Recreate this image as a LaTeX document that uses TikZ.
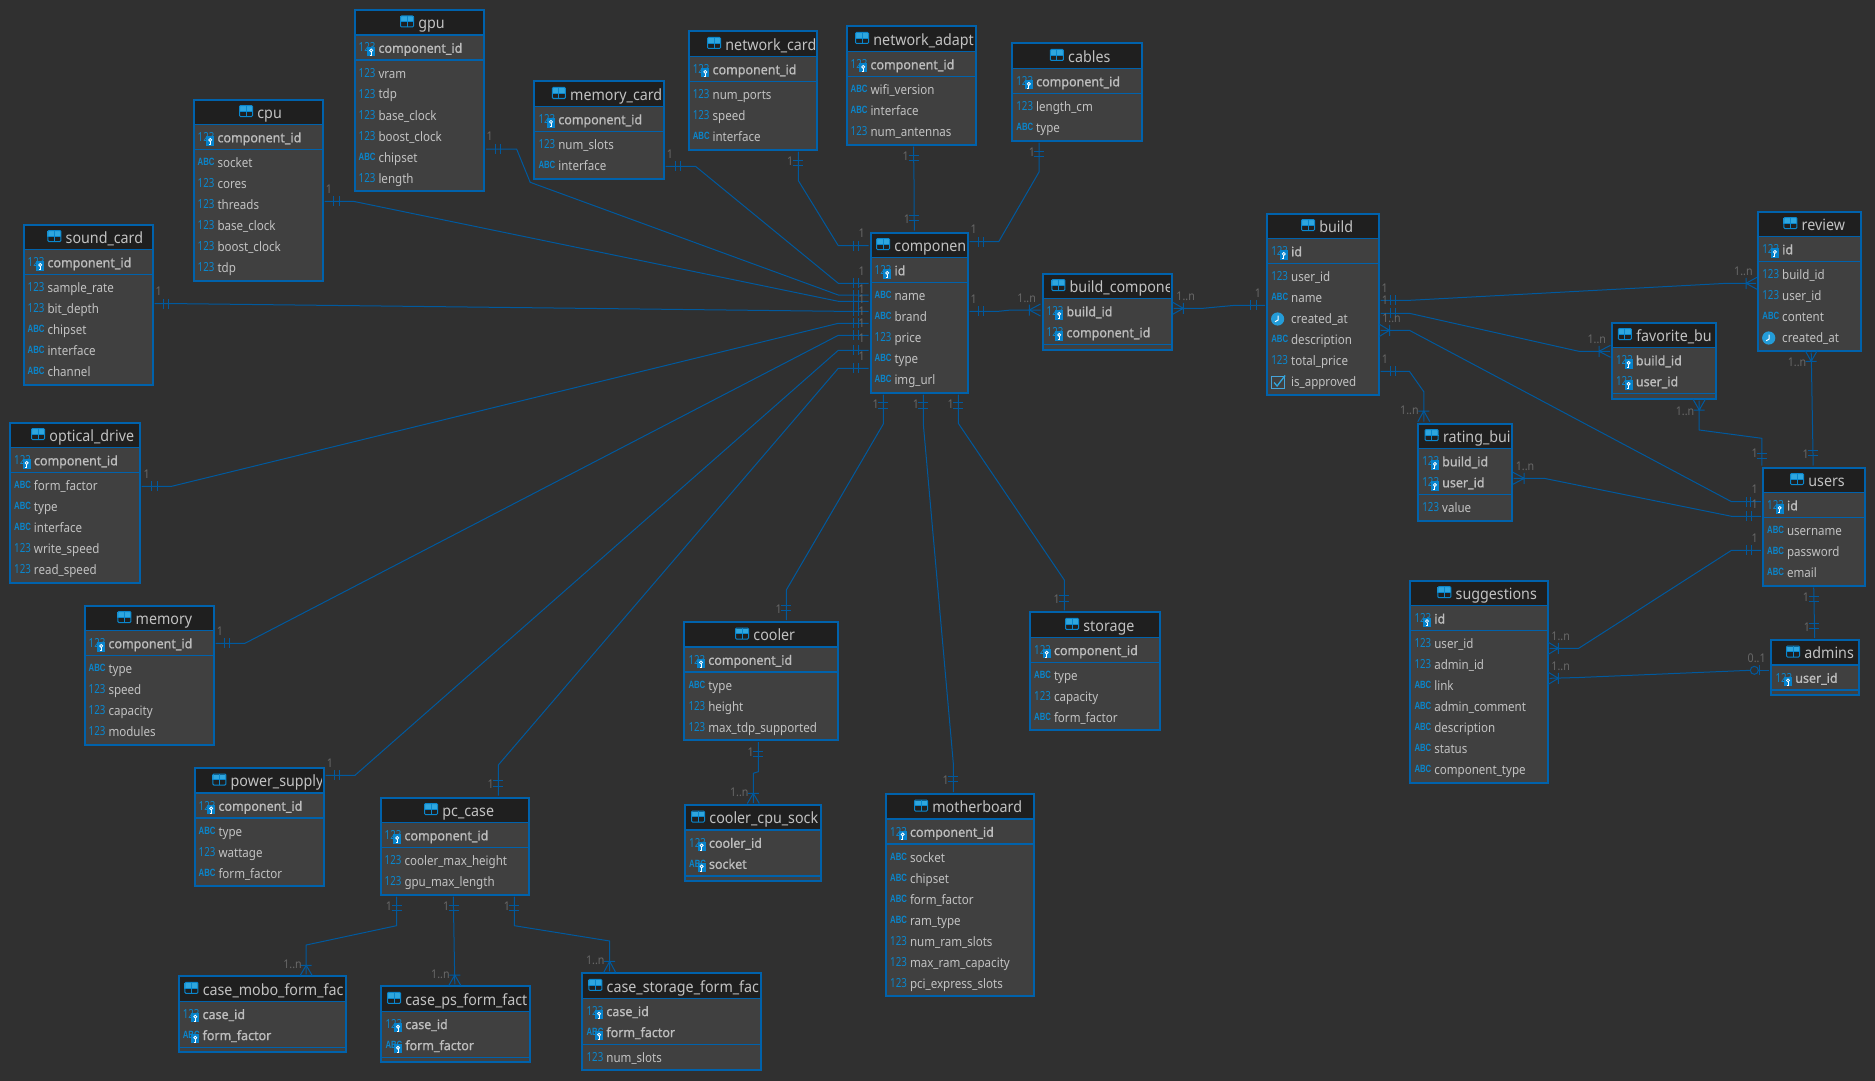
\documentclass[tikz,border=0pt]{standalone}
\usepackage{fontspec}
\setmainfont{Noto Sans}
\newfontfamily\iconf[FakeStretch=0.78]{Noto Sans}
\newfontfamily\iconb[FakeStretch=0.74]{Liberation Sans}
\newfontfamily\colf[FakeStretch=0.89]{Noto Sans}
\newfontfamily\keyf[FakeStretch=0.96,FakeBold=1]{Noto Sans}
\newfontfamily\titf[FakeStretch=0.92]{Noto Sans}
\definecolor{bgc}{HTML}{303030}
\definecolor{tfill}{HTML}{404040}
\definecolor{thead}{HTML}{1F1F1F}
\definecolor{bluec}{HTML}{0062AC}
\definecolor{relc}{HTML}{00599E}
\definecolor{txtc}{HTML}{C2C2C2}
\definecolor{keytxt}{HTML}{BDBDBD}
\definecolor{iconc}{HTML}{0A86CC}
\definecolor{keyc}{HTML}{0683CC}
\definecolor{labc}{HTML}{686868}
\definecolor{lightc}{HTML}{2FA6DE}
\newcount\rowc \newcount\labn \newcount\icn
\tikzset{
 tblbox/.style={draw=bluec,line width=2pt,outer sep=2pt,inner sep=0pt,rectangle},
 seprule/.style={draw=bluec,line width=1.1pt},
 rel/.style={draw=relc,line width=1pt,line join=miter},
 mark1/.style={draw=relc,line width=1pt},
 lbl/.style={text=labc,inner sep=0pt,font=\fontsize{12}{14}\selectfont\colf},
 coltxt/.style={text=txtc,inner sep=0pt,anchor=base west,font=\fontsize{13}{15}\selectfont\colf},
 colkey/.style={text=keytxt,inner sep=0pt,anchor=base west,font=\fontsize{13}{15}\selectfont\keyf},
 titletxt/.style={text=txtc,inner sep=0pt,anchor=base west,font=\fontsize{15.5}{18}\selectfont\titf},
 iconnum/.style={text=iconc,inner sep=0pt,anchor=base west,font=\fontsize{12.5}{14}\selectfont\iconf},
 iconabc/.style={text=iconc,inner sep=0pt,anchor=base west,font=\fontsize{10.5}{12}\selectfont\iconb\bfseries},
}
% type icon: n number, a text, t timestamp, b boolean
\newcommand\ticon[3]{%
 \global\advance\icn by 1
 \if#1n\node[iconnum] (ic\the\icn) at ({#2+4},{#3-0.8}) {123};\fi
 \if#1a\node[iconabc] (ic\the\icn) at ({#2+4},{#3-1.8}) {ABC};\fi
 \if#1t\fill[lightc!70!iconc] ({#2+10.5},{#3-4.5}) circle (6.6);
   \draw[white,line width=1pt] ({#2+11},{#3-8}) -- ({#2+11},{#3-3.5}) -- ({#2+8},{#3-1.8});\fi
 \if#1b\draw[draw=iconc!75!white,line width=1pt] ({#2+4.5},{#3-10.5}) rectangle ({#2+17},{#3+2});
   \draw[lightc,line width=1.3pt] ({#2+7},{#3-4}) -- ({#2+10},{#3-0.5}) -- ({#2+18},{#3-11});\fi
}
\newcommand\keyicon[2]{%
 \fill[keyc] ({#1+12.8},{#2-6}) rectangle ({#1+20.6},{#2+3.2});
 \draw[white,line width=.8pt] ({#1+16.7},{#2-2.4}) circle (1.5);
 \draw[white,line width=.9pt] ({#1+16.7},{#2-.9}) -- ({#1+16.7},{#2+2.2}) -- ({#1+15.2},{#2+2.2});
}
% \etable{name}{x1}{x2}{y0}{iconx}{title}{nkeys}{nattrs}{rows}
\newcommand\etable[9]{%
 \pgfmathsetmacro\tH{34+21*(#7+#8)}
 \pgfmathsetmacro\tSep{#4+25+4+21*#7}
 \gdef\tbn{#1}\gdef\tx{#2}
 \pgfmathsetmacro\ky{#4+25+17.8}\xdef\keyy{\ky}
 \pgfmathsetmacro\ay{\tSep+18}\xdef\attry{\ay}
 \global\rowc=0
 \fill[tfill] (#2,#4) rectangle (#3,{#4+\tH});
 \fill[thead] (#2,#4) rectangle (#3,{#4+25});
 \draw[seprule] (#2,{#4+25}) -- (#3,{#4+25});
 \draw[seprule] (#2,\tSep) -- (#3,\tSep);
 \begin{scope}
  \clip (#2,#4) rectangle ({#3-2},{#4+25});
  \fill[lightc] (#5,{#4+6.5}) rectangle ({#5+13.5},{#4+11.5});
  \draw[iconc,line width=1pt,rounded corners=1pt] ({#5+.5},{#4+6}) rectangle ({#5+13.5},{#4+17});
  \draw[iconc,line width=1pt] (#5,{#4+11.7}) -- ({#5+14},{#4+11.7}) ({#5+7},{#4+6}) -- ({#5+7},{#4+17});
  \node[titletxt] (#1-title) at ({#5+18.2},{#4+18.8}) {#6};
 \end{scope}
 #9
 \node[tblbox,minimum width={(#3-#2)*1pt},minimum height={(\tH)*1pt}] (#1) at ({(#2+#3)/2},{#4+\tH/2}) {};
}
\newcommand\K[2]{%
 \global\advance\rowc by 1
 \ticon{#1}{\tx}{\keyy}
 \keyicon{\tx}{\keyy}
 \node[colkey] (\tbn-r\the\rowc) at ({\tx+23.8},\keyy) {#2};
 \pgfmathsetmacro\ky{\keyy+21}\xdef\keyy{\ky}
}
\newcommand\R[2]{%
 \global\advance\rowc by 1
 \ticon{#1}{\tx}{\attry}
 \node[coltxt] (\tbn-r\the\rowc) at ({\tx+23.8},\attry) {#2};
 \pgfmathsetmacro\ay{\attry+21}\xdef\attry{\ay}
}
\newcommand\lab[3]{\global\advance\labn by 1 \node[lbl] (lab\the\labn) at (#1,#2) {#3};}
\newcommand\hticks[3]{\draw[mark1] (#1,{#3-5}) -- (#1,{#3+5}) (#2,{#3-5}) -- (#2,{#3+5});}
\newcommand\vticks[3]{\draw[mark1] ({#3-5},#1) -- ({#3+5},#1) ({#3-5},#2) -- ({#3+5},#2);}
\newcommand\hcrow[3]{\draw[mark1] (#1,{#3-5.5}) -- (#1,{#3+5.5}) (#2,{#3-6}) -- (#1,#3) -- (#2,{#3+6});}
\newcommand\vcrow[3]{\draw[mark1] ({#1-5.5},#2) -- ({#1+5.5},#2) ({#1-6},#3) -- (#1,#2) -- ({#1+6},#3);}
\begin{document}
\begin{tikzpicture}[x=1pt,y=-1pt]
\fill[bgc] (0,0) rectangle (1875,1081);
\useasboundingbox (0,0) rectangle (1875,1081);
\etable{cpu}{193.5}{322.5}{99.5}{239}{cpu}{1}{6}{\K{n}{component\_id}\R{a}{socket}\R{n}{cores}\R{n}{threads}\R{n}{base\_clock}\R{n}{boost\_clock}\R{n}{tdp}}
\etable{gpu}{354.5}{484}{10}{400}{gpu}{1}{6}{\K{n}{component\_id}\R{n}{vram}\R{n}{tdp}\R{n}{base\_clock}\R{n}{boost\_clock}\R{a}{chipset}\R{n}{length}}
\etable{soundcard}{23.5}{152.5}{224.5}{47.3}{sound\_card}{1}{5}{\K{n}{component\_id}\R{n}{sample\_rate}\R{n}{bit\_depth}\R{a}{chipset}\R{a}{interface}\R{a}{channel}}
\etable{optical}{10}{139.5}{422.5}{31}{optical\_drive}{1}{5}{\K{n}{component\_id}\R{a}{form\_factor}\R{a}{type}\R{a}{interface}\R{n}{write\_speed}\R{n}{read\_speed}}
\etable{memory}{84.5}{213.5}{605.5}{117.3}{memory}{1}{4}{\K{n}{component\_id}\R{a}{type}\R{n}{speed}\R{n}{capacity}\R{n}{modules}}
\etable{power}{194.5}{323.5}{768}{212.3}{power\_supply}{1}{3}{\K{n}{component\_id}\R{a}{type}\R{n}{wattage}\R{a}{form\_factor}}
\etable{pccase}{380.5}{528.5}{797.5}{424}{pc\_case}{1}{2}{\K{n}{component\_id}\R{n}{cooler\_max\_height}\R{n}{gpu\_max\_length}}
\etable{memcard}{534.3}{663.7}{81.5}{551.8}{memory\_card}{1}{2}{\K{n}{component\_id}\R{n}{num\_slots}\R{a}{interface}}
\etable{netcard}{688.6}{817.1}{31.5}{707}{network\_card}{1}{3}{\K{n}{component\_id}\R{n}{num\_ports}\R{n}{speed}\R{a}{interface}}
\etable{netadapt}{846.5}{975.5}{26.5}{855}{network\_adapt}{1}{3}{\K{n}{component\_id}\R{a}{wifi\_version}\R{a}{interface}\R{n}{num\_antennas}}
\etable{cables}{1012.2}{1141.6}{43.5}{1049.8}{cables}{1}{2}{\K{n}{component\_id}\R{n}{length\_cm}\R{a}{type}}
\etable{comp}{870.5}{967.5}{232.5}{876}{componen}{1}{5}{\K{n}{id}\R{a}{name}\R{a}{brand}\R{n}{price}\R{a}{type}\R{a}{img\_url}}
\etable{buildcomp}{1042.5}{1171.5}{273.5}{1051.3}{build\_compone}{2}{0}{\K{n}{build\_id}\K{n}{component\_id}}
\etable{build}{1267.1}{1378.7}{213.5}{1301}{build}{1}{6}{\K{n}{id}\R{n}{user\_id}\R{a}{name}\R{t}{created\_at}\R{a}{description}\R{n}{total\_price}\R{b}{is\_approved}}
\etable{review}{1758.2}{1861.4}{211.5}{1783.3}{review}{1}{4}{\K{n}{id}\R{n}{build\_id}\R{n}{user\_id}\R{a}{content}\R{t}{created\_at}}
\etable{favorite}{1611.9}{1715.5}{322.5}{1617.9}{favorite\_bu}{2}{0}{\K{n}{build\_id}\K{n}{user\_id}}
\etable{rating}{1418.2}{1511.5}{423.5}{1424.6}{rating\_bui}{2}{1}{\K{n}{build\_id}\K{n}{user\_id}\R{n}{value}}
\etable{users}{1763}{1864.6}{467.5}{1790}{users}{1}{3}{\K{n}{id}\R{a}{username}\R{a}{password}\R{a}{email}}
\etable{suggestions}{1410.3}{1547.7}{580.7}{1437.3}{suggestions}{1}{7}{\K{n}{id}\R{n}{user\_id}\R{n}{admin\_id}\R{a}{link}\R{a}{admin\_comment}\R{a}{description}\R{a}{status}\R{a}{component\_type}}
\etable{admins}{1771.3}{1859}{640}{1786}{admins}{1}{0}{\K{n}{user\_id}}
\etable{casemobo}{178.6}{345.5}{976.3}{184.4}{case\_mobo\_form\_fac}{2}{0}{\K{n}{case\_id}\K{a}{form\_factor}}
\etable{caseps}{381.3}{529.5}{986.3}{387}{case\_ps\_form\_fact}{2}{0}{\K{n}{case\_id}\K{a}{form\_factor}}
\etable{casestorage}{582.4}{761}{973.3}{588.3}{case\_storage\_form\_fac}{2}{1}{\K{n}{case\_id}\K{a}{form\_factor}\R{n}{num\_slots}}
\etable{cooler}{684.3}{837.7}{622}{735}{cooler}{1}{3}{\K{n}{component\_id}\R{a}{type}\R{n}{height}\R{n}{max\_tdp\_supported}}
\etable{coolersock}{685}{821}{805}{691}{cooler\_cpu\_sock}{2}{0}{\K{n}{cooler\_id}\K{a}{socket}}
\etable{motherboard}{886}{1034}{794}{914}{motherboard}{1}{7}{\K{n}{component\_id}\R{a}{socket}\R{a}{chipset}\R{a}{form\_factor}\R{a}{ram\_type}\R{n}{num\_ram\_slots}\R{n}{max\_ram\_capacity}\R{n}{pci\_express\_slots}}
\etable{storage}{1030}{1160}{612.3}{1065}{storage}{1}{3}{\K{n}{component\_id}\R{a}{type}\R{n}{capacity}\R{a}{form\_factor}}
% connectors into component, west side
\draw[rel] (netcard.south -| 798.4,0) -- (798.4,180.7) -- (838.3,245.7) -- (comp.west |- 0,245.7);
\draw[rel] (memcard.east |- 0,166.3) -- (695.5,166.3) -- (838.3,283.3) -- (comp.west |- 0,283.3);
\draw[rel] (gpu.east |- 0,149) -- (516.6,149) -- (530.2,182.3) -- (838.3,295) -- (comp.west |- 0,295);
\draw[rel] (cpu.east |- 0,201.3) -- (353.3,201.3) -- (838.3,301.3) -- (comp.west |- 0,301.3);
\draw[rel] (soundcard.east |- 0,303.7) -- (183,303.7) -- (838.3,311.3) -- (comp.west |- 0,311.3);
\draw[rel] (optical.east |- 0,486.3) -- (171.7,486.3) -- (838.3,323.3) -- (comp.west |- 0,323.3);
\draw[rel] (memory.east |- 0,643.3) -- (245,643.3) -- (838.3,335.3) -- (comp.west |- 0,335.3);
\draw[rel] (power.east |- 0,775.3) -- (355,775.3) -- (838.3,350.3) -- (comp.west |- 0,350.3);
\draw[rel] (pccase.north -| 498.3,0) -- (498.3,765) -- (838.3,368.3) -- (comp.west |- 0,368.3);
\hticks{853.3}{858.7}{245.7}\hticks{853.3}{858.7}{283.3}\hticks{853.3}{858.7}{295}\hticks{853.3}{858.7}{301.3}
\hticks{853.3}{858.7}{311.3}\hticks{853.3}{858.7}{323.3}\hticks{853.3}{858.7}{335.3}\hticks{853.3}{858.7}{350.3}\hticks{853.3}{858.7}{368.3}
\vticks{160.5}{165.5}{798.4}
\hticks{675}{680.5}{166.3}
\hticks{495}{500.5}{149}
\hticks{333.3}{339}{201.3}
\hticks{163.3}{168.7}{303.7}
\hticks{151.7}{157}{486.3}
\hticks{224.3}{229.7}{643.3}
\hticks{334.3}{339.7}{775.3}
\vticks{780.7}{786}{498.3}
% others
\draw[rel] (comp.east |- 0,241.7) -- (998.7,241.7) -- (1039.2,171.7) -- (cables.south -| 1039.2,0);
\hticks{978.3}{983.7}{241.7}\vticks{151}{156}{1039.2}
\draw[rel] (netadapt.south -| 913.5,0) -- (914,180) -- (comp.north -| 914.3,0);
\vticks{155.3}{160.7}{913.5}\vticks{215}{220.3}{914.3}
\draw[rel] (comp.east |- 0,311.3) -- (998.7,311.3) -- (1011,310) -- (buildcomp.west |- 0,310);
\hticks{978.3}{983.7}{311.3}\hcrow{1029.3}{1040.5}{310}
\draw[rel] (buildcomp.east |- 0,308.3) -- (1203,308.3) -- (1235,305.3) -- (build.west |- 0,305.3);
\hcrow{1183.3}{1172.7}{308.3}\hticks{1250.8}{1256.8}{305.3}
\draw[rel] (build.east |- 0,300.3) -- (1410,300.3) -- (1727,283.3) -- (review.west |- 0,283.3);
\hticks{1390.3}{1395.5}{300.3}\hcrow{1746}{1757}{283.3}
\draw[rel] (build.east |- 0,313.3) -- (1409.4,313.3) -- (1578.8,351.3) -- (favorite.west |- 0,351.3);
\hticks{1390.3}{1395.5}{313.3}\hcrow{1599}{1610.5}{351.3}
\draw[rel] (build.east |- 0,330.3) -- (1409.4,330.3) -- (1731.5,501.7) -- (users.west |- 0,501.7);
\hcrow{1389.5}{1379.5}{330.3}\hticks{1746.2}{1750.8}{501.7}
\draw[rel] (build.east |- 0,371.3) -- (1409.4,371.3) -- (1423.8,391.7) -- (rating.north -| 1423.8,0);
\hticks{1390.3}{1395.5}{371.3}\vcrow{1423.8}{411}{421.7}
\draw[rel] (rating.east |- 0,478.3) -- (1544,478.3) -- (1731.5,516.3) -- (users.west |- 0,516.3);
\hcrow{1524.2}{1513}{478.3}\hticks{1746.2}{1751}{516.3}
\draw[rel] (favorite.south -| 1699.2,0) -- (1699.2,430) -- (1761.8,438.3) -- (users.north -| 1761.8,0);
\vcrow{1699.2}{410}{399.5}\vticks{453.3}{458.3}{1761.8}
\draw[rel] (review.south -| 1811.2,0) -- (1811.7,380) -- (users.north -| 1813.2,0);
\vcrow{1811.2}{361.3}{350.7}\vticks{450}{455.7}{1812.9}
\draw[rel] (users.west |- 0,550.3) -- (1731.5,550.3) -- (1578.7,648.3) -- (suggestions.east |- 0,648.3);
\hticks{1746.2}{1751}{550.3}\hcrow{1558.3}{1548.3}{648.3}
\coordinate (circW) at (1750.3,670.3);
\coordinate (circE) at (1758.3,670.3);
\draw[rel] (suggestions.east |- 0,678.3) -- (1578.7,677.5) -- (circW);
\draw[rel] (circE) -- (admins.west |- 0,670.3);
\hcrow{1558.3}{1548.3}{678.3}
\draw[mark1] (1754.3,670.3) circle (4);
\draw[mark1] (1759,665.3) -- (1759,675.3);
\draw[rel] (users.south -| 1813.7,0) -- (admins.north -| 1814.7,0);
\vticks{596.7}{601.7}{1813.9}\vticks{623.3}{628.3}{1814.4}
\draw[rel] (comp.south -| 883.3,0) -- (883.3,424) -- (786.3,590) -- (cooler.north -| 786.3,0);
\vticks{402.7}{408.7}{883.3}\vticks{605}{610.7}{786.3}
\draw[rel] (comp.south -| 923.3,0) -- (923.3,424) -- (953.3,763.3) -- (motherboard.north -| 953.3,0);
\vticks{402.7}{408.7}{923.3}\vticks{776.7}{781.7}{953.3}
\draw[rel] (comp.south -| 958.3,0) -- (958.3,423.3) -- (1064.3,580) -- (storage.north -| 1064.3,0);
\vticks{402.7}{408.7}{958.3}\vticks{595.3}{601}{1064.3}
\draw[rel] (cooler.south -| 758.3,0) -- (758.3,771.7) -- (753.3,773.3) -- (coolersock.north -| 753.3,0);
\vticks{751}{756}{758.3}\vcrow{753.3}{793.3}{803.5}
\draw[rel] (pccase.south -| 396.5,0) -- (396.5,925.7) -- (306.2,945) -- (casemobo.north -| 306.2,0);
\vticks{905}{910.3}{396.5}\vcrow{306.2}{965.3}{975.5}
\draw[rel] (pccase.south -| 453.3,0) -- (caseps.north -| 454.8,0);
\vticks{905}{910.3}{453.5}\vcrow{454.8}{975}{985.5}
\draw[rel] (pccase.south -| 514.4,0) -- (514.4,925.7) -- (609.7,941) -- (casestorage.north -| 609.7,0);
\vticks{905}{910.3}{514.4}\vcrow{609.7}{961.3}{972.5}
% cardinality labels
\lab{329}{189}{1}\lab{489.7}{136}{1}\lab{669.8}{154.3}{1}\lab{790.2}{161.3}{1}
\lab{905.7}{156.3}{1}\lab{907}{219}{1}\lab{1031.8}{152.3}{1}\lab{158.7}{291}{1}
\lab{146.7}{474.3}{1}\lab{220}{631.3}{1}\lab{330}{763.3}{1}\lab{490.7}{784}{1}
\lab{861.7}{233.3}{1}\lab{861.7}{271.3}{1}\lab{861.7}{289}{1}\lab{861.7}{299.3}{1}
\lab{861.7}{311}{1}\lab{861.7}{323}{1}\lab{861.7}{338}{1}\lab{861.7}{356.3}{1}
\lab{973.7}{229.3}{1}\lab{973.7}{299}{1}\lab{1026.7}{298.3}{1..n}\lab{1185.7}{296.7}{1..n}
\lab{1258}{293.3}{1}\lab{1384.7}{288}{1}\lab{1743.4}{271}{1..n}\lab{1385}{300}{1}
\lab{1596.8}{339.3}{1..n}\lab{1391.5}{318.3}{1..n}\lab{1754.6}{489.3}{1}\lab{1385}{359}{1}
\lab{1409.4}{410}{1..n}\lab{1525}{466.7}{1..n}\lab{1754.6}{504}{1}\lab{1685}{411}{1..n}
\lab{1754.6}{453}{1}\lab{1797}{362.3}{1..n}\lab{1805.6}{454}{1}\lab{1560.7}{636.7}{1..n}
\lab{1754.6}{538}{1}\lab{1756.7}{658}{0..1}\lab{1560.7}{666.7}{1..n}\lab{1806}{597.3}{1}
\lab{1807}{627.3}{1}\lab{875.7}{404.3}{1}\lab{916}{404.3}{1}\lab{950.7}{404.3}{1}
\lab{778.7}{609.3}{1}\lab{945.7}{780}{1}\lab{1056.7}{599.3}{1}\lab{750.7}{752.3}{1}
\lab{739.3}{792.3}{1..n}\lab{389}{906}{1}\lab{292.6}{964.3}{1..n}\lab{446.3}{906}{1}
\lab{440.4}{974.3}{1..n}\lab{507}{906}{1}\lab{595.3}{960}{1..n}
\end{tikzpicture}
\end{document}
